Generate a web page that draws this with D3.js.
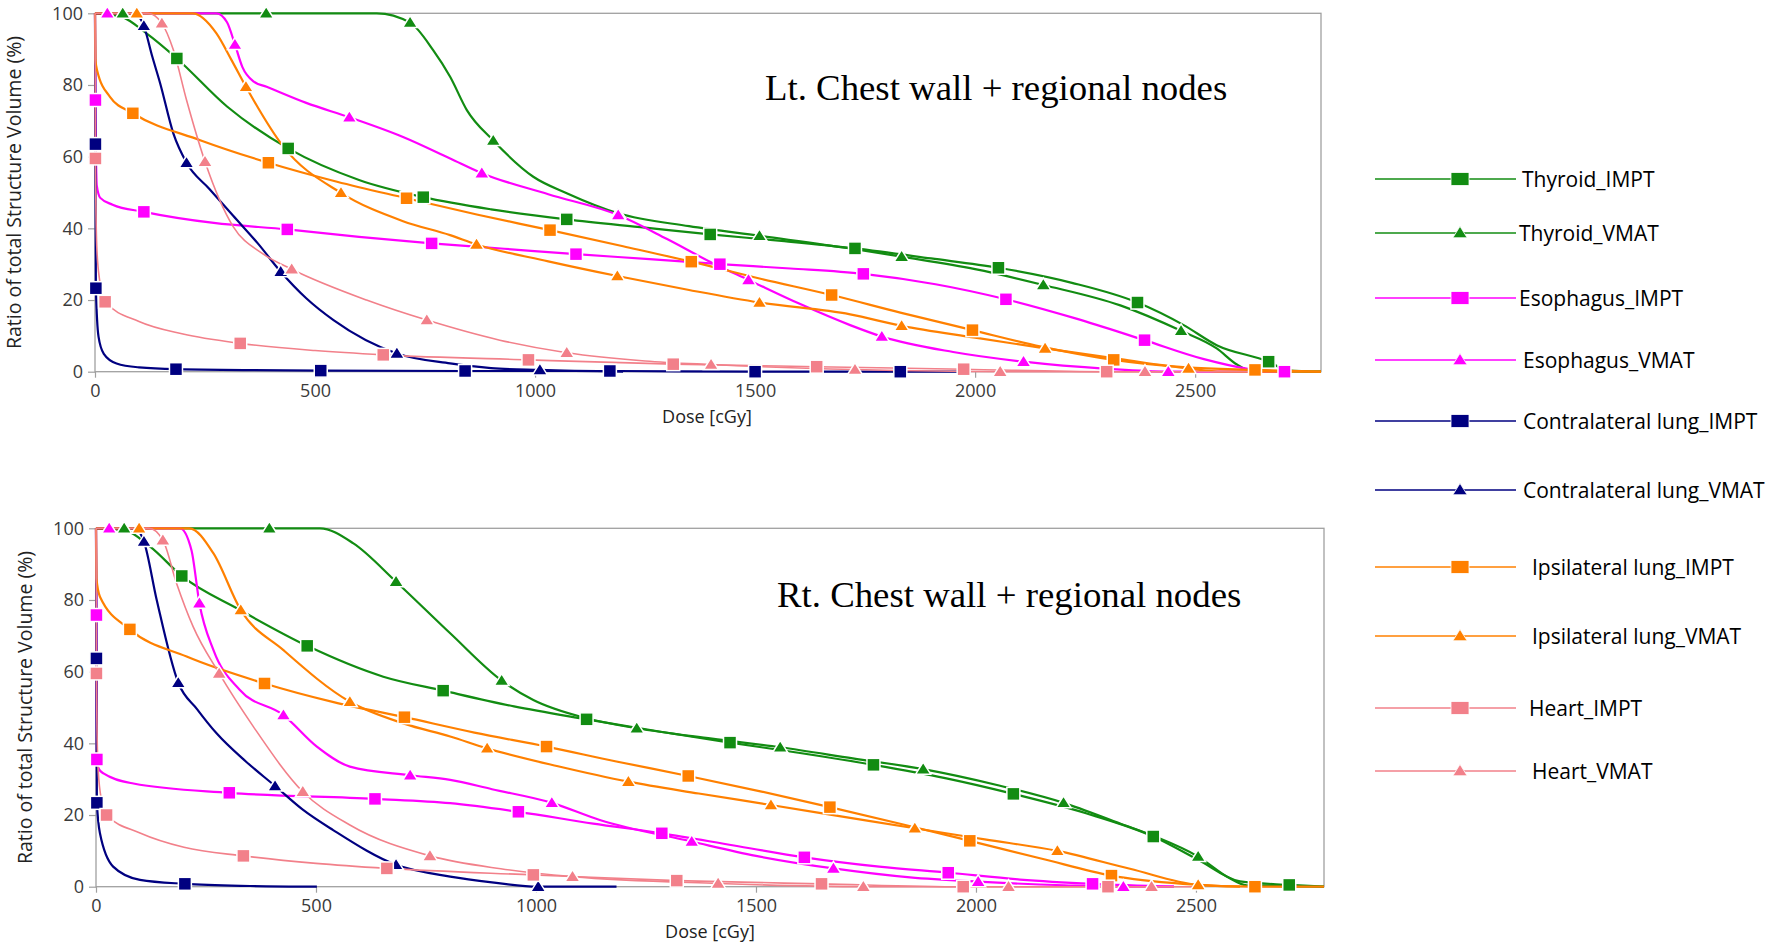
<!DOCTYPE html>
<html>
<head>
<meta charset="utf-8">
<script src="https://cdn.jsdelivr.net/npm/d3@7"></script>
<style>
  body { margin: 0; background: #fff; }
  text { font-family: "Open Sans", sans-serif; }
</style>
</head>
<body>
<script>
// dose (cGy), volume (%), 1 = marker drawn at this point
var ticksX = [0, 500, 1000, 1500, 2000, 2500];
var ticksY = [0, 20, 40, 60, 80, 100];
var seriesNames = ["Thyroid_IMPT", "Thyroid_VMAT", "Esophagus_IMPT", "Esophagus_VMAT",
  "Contralateral lung_IMPT", "Contralateral lung_VMAT", "Ipsilateral lung_IMPT",
  "Ipsilateral lung_VMAT", "Heart_IMPT", "Heart_VMAT"];
var panelTitles = ["Lt. Chest wall + regional nodes", "Rt. Chest wall + regional nodes"];

// ---- Lt. chest wall ----
var ltThyroidIMPT = [[0,100],[60,99],[117,94.4],[186,87.4,1],[300,74],[439,62.3,1],[600,53.5],[746,48.7,1],[900,45.3],[1072,42.5,1],[1250,40.2],[1398,38.3,1],[1560,36.5],[1727,34.4,1],[1900,31.6],[2053,29.0,1],[2220,24.8],[2369,19.3,1],[2474,13.0],[2549,7.4],[2667,2.8,1],[2710,0.4],[2786,0]];
var ltThyroidVMAT = [[0,100],[63,100,1],[389,100,1],[640,100],[716,97.4,1],[768,89.8],[807,82.3],[845,73],[905,64.5,1],[996,54.4],[1072,49.8],[1189,44.2,1],[1350,40.6],[1510,37.9,1],[1716,34.4],[1833,32.1,1],[2000,28.6],[2155,24.2,1],[2330,18.5],[2468,11.4,1],[2549,6.5],[2595,2],[2625,0.3],[2786,0]];
var ltEsoIMPT = [[0,100],[1,75.8,1],[4,52],[12,48.5],[40,46.6],[111,44.6,1],[270,41.5],[437,39.7,1],[600,37.6],[765,35.8,1],[930,34.3],[1093,32.8,1],[1260,31.4],[1420,30.0,1],[1580,28.8],[1746,27.3,1],[1910,24.4],[2070,20.2,1],[2230,14.8],[2385,8.8,1],[2520,3.5],[2620,0.8],[2703,0,1]];
var ltEsoVMAT = [[0,100],[28,100,1],[276,100],[300,97.5],[318,91.3,1],[335,85],[360,81],[390,79.5],[480,75],[578,71.0,1],[700,65.5],[807,59.5],[879,55.4,1],[1030,49.5],[1189,43.7,1],[1300,37],[1405,30.2],[1485,25.6,1],[1600,19],[1716,13.0],[1788,9.8,1],[1950,5.5],[2110,2.8,1],[2300,0.8],[2439,0,1],[2700,0]];
var ltLungCIMPT = [[0,100],[1,63.5,1],[2,23.3,1],[8,9.8],[20,5],[49,2.3],[100,1.2],[184,0.7,1],[513,0.3,1],[841,0.2,1],[1170,0.2,1],[1500,0,1],[1830,0,1],[1990,0]];
var ltLungCVMAT = [[0,100],[90,100],[111,96.5,1],[130,88],[148,80.5],[178,66.5],[208,58.3,1],[260,51],[314,43.5],[370,35.8],[422,27.9,1],[480,20.5],[542,14.4],[686,5.1,1],[807,2.3],[900,1.0],[1011,0.5,1],[1200,0]];
var ltLungIIMPT = [[0,100],[1,87],[5,84],[34,76.7],[86,72.1,1],[239,64.6],[394,58.3,1],[550,53],[708,48.4,1],[870,43.8],[1034,39.5,1],[1200,35],[1355,30.7,1],[1510,26],[1674,21.4,1],[1830,16.5],[1994,11.6,1],[2150,7],[2315,3.3,1],[2480,1.2],[2636,0.5,1],[2786,0]];
var ltLungIVMAT = [[0,100],[95,100,1],[222,100],[276,94.4],[310,87],[343,79.5,1],[428,62.8],[559,49.9,1],[700,42],[807,38.1],[867,35.5,1],[1030,30.8],[1187,26.7,1],[1350,22.8],[1510,19.3,1],[1716,16.0],[1833,12.8,1],[2000,9.5],[2159,6.5,1],[2330,3.5],[2485,0.9,1],[2560,0],[2786,0]];
var ltHeartIMPT = [[0,100],[1,59.5,1],[4,35],[10,26],[23,19.5,1],[100,14],[200,10.5],[330,7.9,1],[500,5.9],[655,4.7,1],[985,3.3,1],[1314,2.1,1],[1640,1.4,1],[1974,0.7,1],[2299,0,1],[2620,0]];
var ltHeartVMAT = [[0,100],[120,100],[152,97.2,1],[178,89.8],[208,75.8],[250,58.6,1],[314,40.5],[380,33],[447,28.6,1],[617,20.0],[754,14.4,1],[920,8.8],[1072,5.3,1],[1250,3.0],[1400,2.0,1],[1727,0.6,1],[2057,0,1],[2386,0,1],[2500,0]];

// ---- Rt. chest wall ----
var rtThyroidIMPT = [[0,100],[64,99.5],[123,94.9],[195,86.7,1],[327,77.2],[480,67.2,1],[653,58.6],[789,54.7,1],[950,50.3],[1115,46.7,1],[1280,43.3],[1441,40.2,1],[1600,37.3],[1767,34.0,1],[1930,30.3],[2085,25.9,1],[2250,20.5],[2403,14.0,1],[2505,7.5],[2600,1.5],[2712,0.5,1],[2791,0]];
var rtThyroidVMAT = [[0,100],[64,100,1],[394,100,1],[509,100],[585,95.8],[682,85.1,1],[805,70.7],[922,57.5,1],[994,52.1],[1115,47.0],[1229,44.2,1],[1400,41.3],[1555,38.9,1],[1720,35.8],[1880,32.8,1],[2050,28.3],[2199,23.4,1],[2330,17.5],[2403,14.2],[2505,8.4,1],[2575,2.5],[2615,0.4],[2791,0]];
var rtEsoIMPT = [[0,100],[1,75.8,1],[2,35.5,1],[6,33],[17,31.6],[85,28.8],[303,26.2,1],[634,24.5,1],[805,23.3],[960,20.9,1],[1130,17.6],[1286,14.9,1],[1450,11.5],[1610,8.2,1],[1780,5.6],[1937,3.9,1],[2100,2],[2265,0.8,1],[2450,0]];
var rtEsoVMAT = [[0,100],[30,100,1],[191,100],[217,93.9],[235,79.1,1],[267,66],[327,54.9],[426,47.9,1],[502,39.1],[577,33.5],[714,31.1,1],[805,29.8],[900,27.2],[1036,23.4,1],[1145,18.6],[1354,12.6,1],[1500,8.6],[1676,5.1,1],[1850,2.6],[2005,1.4,1],[2200,0.4],[2335,0,1],[2450,0]];
var rtLungCIMPT = [[0,100],[1,63.7,1],[2,23.4,1],[9,14.9],[39,5.6],[100,1.9],[202,0.8,1],[350,0.2],[502,0]];
var rtLungCVMAT = [[0,100],[88,100],[109,96.3,1],[138,80],[187,56.9,1],[230,49.5],[274,42.8],[340,35],[407,28.1,1],[470,21.5],[539,15.8],[682,6.1,1],[805,2.8],[900,1.2],[1005,0,1],[1183,0]];
var rtLungIIMPT = [[0,100],[1,86],[9,80.9],[77,71.8,1],[206,64.2],[383,56.7,1],[540,51.5],[701,47.3,1],[860,43],[1024,39.1,1],[1180,35],[1346,30.9,1],[1510,26.6],[1668,22.2,1],[1830,17.5],[1986,12.8,1],[2150,7.8],[2308,3.1,1],[2470,0.8],[2634,0,1],[2791,0]];
var rtLungIVMAT = [[0,100],[98,100,1],[212,100],[267,93],[329,77.2,1],[426,66],[577,51.6,1],[700,45.5],[805,41.9],[889,38.6,1],[1050,33.6],[1210,29.3,1],[1370,26],[1534,22.8,1],[1700,19.5],[1861,16.3,1],[2020,13.2],[2185,10.0,1],[2350,5],[2505,0.5,1],[2600,0]];
var rtHeartIMPT = [[0,100],[1,59.5,1],[4,35],[10,26],[24,20.0,1],[100,15],[200,11],[335,8.6,1],[500,6.5],[661,5.1,1],[994,3.3,1],[1320,1.7,1],[1649,0.8,1],[1971,0,1],[2300,0,1],[2450,0]];
var rtHeartVMAT = [[0,100],[120,100],[152,96.7,1],[183,84.7],[221,72.5],[280,59.5,1],[358,44.6],[470,26.5,1],[577,17.2],[759,8.6,1],[920,5],[1083,2.8,1],[1414,0.9,1],[1744,0,1],[2074,0,1],[2399,0,1],[2500,0]];

var ltSeries = [ltThyroidIMPT, ltThyroidVMAT, ltEsoIMPT, ltEsoVMAT, ltLungCIMPT, ltLungCVMAT, ltLungIIMPT, ltLungIVMAT, ltHeartIMPT, ltHeartVMAT];
var rtSeries = [rtThyroidIMPT, rtThyroidVMAT, rtEsoIMPT, rtEsoVMAT, rtLungCIMPT, rtLungCVMAT, rtLungIIMPT, rtLungIVMAT, rtHeartIMPT, rtHeartVMAT];

// styles
var colors = ["#128c12", "#128c12", "#ff00ff", "#ff00ff", "#000080", "#000080", "#ff8000", "#ff8000", "#f2808a", "#f2808a"];
var shapes = ["sq", "tri", "sq", "tri", "sq", "tri", "sq", "tri", "sq", "tri"];
var widths = [2.2, 2.2, 2.2, 2.2, 2.2, 2.2, 2.2, 2.2, 1.6, 1.6];
var axisGrey = "#a0a0a0";

var width = 1770, height = 943;
var svg = d3.select("body").append("svg").attr("width", width).attr("height", height);

var panels = [
  { series: ltSeries, title: panelTitles[0], left: 95, right: 1321, xmax: 2786, top: 13.3, bottom: 371.7, titleX: 765, titleY: 100, ylabX: 21, xlabX: 707 },
  { series: rtSeries, title: panelTitles[1], left: 96, right: 1324, xmax: 2791, top: 528.3, bottom: 886.7, titleX: 777, titleY: 607, ylabX: 32, xlabX: 710 }
];

function marker(g, shape, color, big) {
  if (shape === "sq") {
    var w = big ? 18 : 13, h = 13;
    g.append("rect").attr("x", -w / 2).attr("y", -h / 2).attr("width", w).attr("height", h)
      .attr("fill", color).attr("stroke", "#fff").attr("stroke-width", big ? 0.8 : 1.5);
  } else {
    var s = big ? 0.95 : 1;
    g.append("path").attr("d", "M0," + (-7 * s) + "L" + (7.5 * s) + "," + (5 * s) + "L" + (-7.5 * s) + "," + (5 * s) + "Z")
      .attr("fill", color).attr("stroke", "#fff").attr("stroke-width", big ? 0.8 : 1.5);
  }
}

panels.forEach(function (p) {
  var x = d3.scaleLinear().domain([0, p.xmax]).range([p.left, p.right]);
  var y = d3.scaleLinear().domain([0, 100]).range([p.bottom, p.top]);

  // frame
  svg.append("rect").attr("x", p.left).attr("y", p.top)
    .attr("width", p.right - p.left).attr("height", p.bottom - p.top)
    .attr("fill", "#fff").attr("stroke", axisGrey).attr("stroke-width", 1.3);

  var ay = svg.append("g").attr("transform", "translate(" + p.left + ",0)")
    .call(d3.axisLeft(y).tickValues(ticksY).tickSize(7).tickPadding(5));
  var ax = svg.append("g").attr("transform", "translate(0," + p.bottom + ")")
    .call(d3.axisBottom(x).tickValues(ticksX).tickFormat(d3.format("d")).tickSize(6).tickPadding(7));
  [ax, ay].forEach(function (a) {
    a.select(".domain").remove();
    a.selectAll("line").attr("stroke", axisGrey).attr("stroke-width", 1.2);
    a.selectAll("text").attr("fill", "#3a3a3a").style("font-size", "18px");
  });

  svg.append("text").attr("transform", "translate(" + p.ylabX + "," + ((p.top + p.bottom) / 2) + ") rotate(-90)")
    .attr("text-anchor", "middle").attr("fill", "#222").style("font-size", "19.5px")
    .text("Ratio of total Structure Volume (%)");
  svg.append("text").attr("x", p.xlabX).attr("y", p.bottom + 50.8)
    .attr("text-anchor", "middle").attr("fill", "#222").style("font-size", "18px")
    .text("Dose [cGy]");
  svg.append("text").attr("x", p.titleX).attr("y", p.titleY)
    .style("font-family", "'Liberation Serif', 'Times New Roman', serif").style("font-size", "36.8px")
    .attr("fill", "#000").text(p.title);

  var line = d3.line().x(function (d) { return x(d[0]); }).y(function (d) { return y(d[1]); })
    .curve(d3.curveMonotoneX);

  p.series.forEach(function (s, i) {
    svg.append("path").datum(s).attr("fill", "none").attr("stroke", colors[i])
      .attr("stroke-width", widths[i]).attr("d", line);
  });
  p.series.forEach(function (s, i) {
    s.filter(function (d) { return d[2]; }).forEach(function (d) {
      var g = svg.append("g").attr("transform", "translate(" + x(d[0]) + "," + y(d[1]) + ")");
      marker(g, shapes[i], colors[i], false);
    });
  });
});

// legend
var legY = [179, 233, 298, 360, 421, 490, 567, 636, 708, 771];
var legTextX = [1522, 1519, 1519, 1523, 1523, 1523, 1532, 1532, 1529, 1532];
seriesNames.forEach(function (name, i) {
  var g = svg.append("g").attr("transform", "translate(0," + legY[i] + ")");
  g.append("line").attr("x1", 1375).attr("x2", 1516).attr("y1", 0).attr("y2", 0)
    .attr("stroke", colors[i]).attr("stroke-width", 1.6);
  var m = g.append("g").attr("transform", "translate(1460,0)");
  marker(m, shapes[i], colors[i], true);
  g.append("text").attr("x", legTextX[i]).attr("y", 0).attr("dy", "0.36em")
    .attr("fill", "#000").style("font-size", "21px").text(name);
});
</script>
</body>
</html>
